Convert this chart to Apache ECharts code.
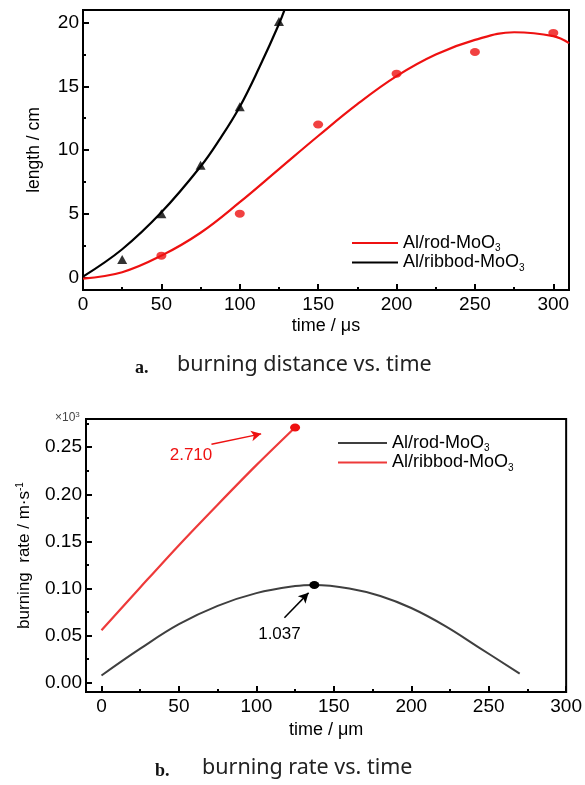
<!DOCTYPE html>
<html><head><meta charset="utf-8">
<script src="https://cdn.jsdelivr.net/npm/echarts@6/dist/echarts.min.js"></script>
<style>html,body{margin:0;padding:0;background:#fff}#c{width:585px;height:785px}</style>
</head><body><div id="c"></div>
<script>
// ---- Panel a: burning distance vs. time ----
const timeRodA = [50, 100, 150, 200, 250, 300];
const lengthRodA = [1.7, 5.0, 12.0, 16.0, 17.7, 19.2];
const timeRibA = [25, 50, 75, 100, 125];
const lengthRibA = [1.4, 5.0, 8.8, 13.4, 20.1];
const fitRodTimeA = [0, 25, 50, 75, 100, 125, 150, 175, 200, 225, 250, 275, 300, 310];
const fitRodLenA = [-0.1, 0.4, 1.7, 3.5, 5.9, 8.5, 11.1, 13.6, 15.8, 17.5, 18.65, 19.25, 18.95, 18.4];
const fitRibTimeA = [0, 25, 50, 75, 87.5, 100, 112.5, 125, 130];
const fitRibLenA = [0.05, 2.2, 5.1, 8.7, 10.9, 13.4, 16.5, 19.9, 21.5];
// ---- Panel b: burning rate vs. time ----
const rateTimeRib = [0, 25, 50, 75, 100, 125];
const rateRib = [0.0555, 0.101, 0.146, 0.189, 0.231, 0.271];
const rateTimeRod = [0, 25, 50, 75, 100, 125, 137.4, 160, 180, 200, 222, 243, 270];
const rateRod = [0.0075, 0.036, 0.062, 0.0815, 0.095, 0.1025, 0.1037, 0.100, 0.092, 0.0792, 0.060, 0.038, 0.0095];
const peakRib = [125, 0.271];
const peakRod = [137.4, 0.1037];
const peakRibLabel = '2.710';
const peakRodLabel = '1.037';
const seriesNames = ['Al/rod-MoO', 'Al/ribbod-MoO'];
const captions = ['burning distance vs. time', 'burning rate vs. time'];

const F = '"Liberation Sans", Arial, sans-serif';
const FS = 19;
const zip = (a, b) => a.map((v, i) => [v, b[i]]);
const RED = '#ee1111', RED2 = '#ee3a3a', GRAY = '#3f3f3f';

function xAx(grid, min, max, name, gap, showMax) {
  return {
    type: 'value', gridIndex: grid, min, max, name, nameLocation: 'middle', nameGap: gap,
    nameTextStyle: { fontSize: 18, color: '#000', fontFamily: F },
    axisLine: { show: true, onZero: false, lineStyle: { color: '#000', width: 2 } },
    axisTick: { show: true, inside: true, length: 6, lineStyle: { color: '#000', width: 2 } },
    minorTick: { show: true, splitNumber: 2, length: 3, lineStyle: { color: '#000', width: 2 } },
    splitLine: { show: false }, minorSplitLine: { show: false },
    axisLabel: { fontSize: FS, color: '#000', fontFamily: F, margin: 5, showMinLabel: min >= 0, showMaxLabel: showMax,
      formatter: v => String(Math.round(v)) }
  };
}
function yAx(grid, min, max, name, gap, dec) {
  return {
    type: 'value', gridIndex: grid, min, max, name, nameLocation: 'middle', nameGap: gap,
    nameTextStyle: { fontSize: 17.5, color: '#000', fontFamily: F,
      rich: { a: { fontSize: 17, fontFamily: F, color: '#000' }, b: { fontSize: 10, fontFamily: F, color: '#000', verticalAlign: 'top', padding: [0, 0, 8, 0] } } },
    axisLine: { show: true, onZero: false, lineStyle: { color: '#000', width: 2 } },
    axisTick: { show: true, inside: true, length: 6, lineStyle: { color: '#000', width: 2 } },
    minorTick: { show: true, splitNumber: 2, length: 3, lineStyle: { color: '#000', width: 2 } },
    splitLine: { show: false }, minorSplitLine: { show: false },
    axisLabel: { fontSize: FS, color: '#000', fontFamily: F, margin: 4, showMinLabel: false, showMaxLabel: false,
      formatter: v => v.toFixed(dec) }
  };
}
const legendRich = { t: { fontSize: 18, fontFamily: F, color: '#000', lineHeight: 22 },
  s: { fontSize: 10, fontFamily: F, color: '#000', padding: [11, 0, 0, 0] } };
const legFmt = n => '{t|' + n.slice(2) + '}{s|3}';

const chart = echarts.init(document.getElementById('c'), null, { renderer: 'canvas' });
chart.setOption({
  animation: false,
  textStyle: { fontFamily: F },
  grid: [
    { left: 83, top: 10, width: 486, height: 280, show: true, borderColor: '#000', borderWidth: 2, backgroundColor: 'transparent' },
    { left: 86, top: 419, width: 483, height: 273, show: true, borderColor: '#000', borderWidth: 2, backgroundColor: 'transparent' }
  ],
  xAxis: [ xAx(0, 0, 310, 'time / μs', 27, false), xAx(1, -10, 300, 'time / μm', 29, true) ],
  yAxis: [ yAx(0, -1, 21, 'length / cm', 40, 0), yAx(1, -0.01, 0.28, '{a|burning  rate / m·s}{b|-1}', 53, 2) ],
  legend: [
    { data: ['a:' + seriesNames[0], 'a:' + seriesNames[1]], orient: 'vertical', left: 347, top: 229,
      icon: 'rect', itemWidth: 46, itemHeight: 2, itemGap: 0, formatter: legFmt, textStyle: { rich: legendRich }, selectedMode: false },
    { data: ['b:' + seriesNames[0], 'b:' + seriesNames[1]], orient: 'vertical', left: 333, top: 429,
      icon: 'rect', itemWidth: 49, itemHeight: 2, itemGap: 0, formatter: legFmt, textStyle: { rich: legendRich }, selectedMode: false }
  ],
  series: [
    { name: 'a:' + seriesNames[0], type: 'line', xAxisIndex: 0, yAxisIndex: 0, data: zip(fitRodTimeA, fitRodLenA),
      smooth: 0.4, showSymbol: false, clip: true, color: RED, lineStyle: { color: RED, width: 2.2 } },
    { name: 'a:' + seriesNames[1], type: 'line', xAxisIndex: 0, yAxisIndex: 0, data: zip(fitRibTimeA, fitRibLenA),
      smooth: 0.4, showSymbol: false, clip: true, color: '#000', lineStyle: { color: '#000', width: 2.2 } },
    { name: 'ptsRod', type: 'scatter', xAxisIndex: 0, yAxisIndex: 0, data: zip(timeRodA, lengthRodA),
      symbol: 'circle', symbolSize: [10, 8], itemStyle: { color: RED } },
    { name: 'ptsRib', type: 'scatter', xAxisIndex: 0, yAxisIndex: 0, data: zip(timeRibA, lengthRibA),
      symbol: 'triangle', symbolSize: [10, 9], itemStyle: { color: '#000' } },
    { name: 'b:' + seriesNames[0], type: 'line', xAxisIndex: 1, yAxisIndex: 1, data: zip(rateTimeRod, rateRod),
      smooth: 0.4, showSymbol: false, color: GRAY, lineStyle: { color: GRAY, width: 2 },
      markPoint: { silent: true, data: [
        { coord: peakRod, symbol: 'circle', symbolSize: [10, 8], itemStyle: { color: '#000' }, label: { show: false } },
        { coord: [114.9, 0.0516], symbol: 'circle', symbolSize: 0, label: { show: true, position: 'inside', formatter: peakRodLabel, fontSize: 17, color: '#000', fontFamily: F } }
      ] },
      markLine: { silent: true, symbol: ['none', 'arrow'], symbolSize: [8, 10], label: { show: false },
        lineStyle: { color: '#000', width: 1.5, type: 'solid' },
        data: [[{ coord: [118.1, 0.0689] }, { coord: [133.7, 0.0953] }]] } },
    { name: 'b:' + seriesNames[1], type: 'line', xAxisIndex: 1, yAxisIndex: 1, data: zip(rateTimeRib, rateRib),
      smooth: 0.3, showSymbol: false, color: RED2, lineStyle: { color: RED2, width: 2.2 },
      markPoint: { silent: true, data: [
        { coord: peakRib, symbol: 'circle', symbolSize: [10, 8], itemStyle: { color: RED }, label: { show: false } },
        { coord: [57.8, 0.2415], symbol: 'circle', symbolSize: 0, label: { show: true, position: 'inside', formatter: peakRibLabel, fontSize: 17, color: RED, fontFamily: F } }
      ] },
      markLine: { silent: true, symbol: ['none', 'arrow'], symbolSize: [8, 10], label: { show: false },
        lineStyle: { color: RED, width: 1.5, type: 'solid' },
        data: [[{ coord: [71.0, 0.2532] }, { coord: [103.1, 0.2642] }]] } }
  ],
  graphic: [
    { type: 'text', left: 55, top: 411, style: { text: '{a|×10}{b|3}', rich: { a: { fontSize: 12, fill: '#444', fontFamily: F }, b: { fontSize: 8, fill: '#444', fontFamily: F, verticalAlign: 'top', padding: [0, 0, 6, 0] } } } },
    { type: 'text', left: 135, top: 359, style: { text: 'a.', font: 'bold 18px "Liberation Serif", "DejaVu Serif", serif', fill: '#111' } },
    { type: 'text', left: 177, top: 354, style: { text: captions[0], font: '21.5px "Noto Sans", "Open Sans", sans-serif', fill: '#222' } },
    { type: 'text', left: 155, top: 762, style: { text: 'b.', font: 'bold 18px "Liberation Serif", "DejaVu Serif", serif', fill: '#111' } },
    { type: 'text', left: 202, top: 757, style: { text: captions[1], font: '21.5px "Noto Sans", "Open Sans", sans-serif', fill: '#222' } }
  ]
});
</script></body></html>
